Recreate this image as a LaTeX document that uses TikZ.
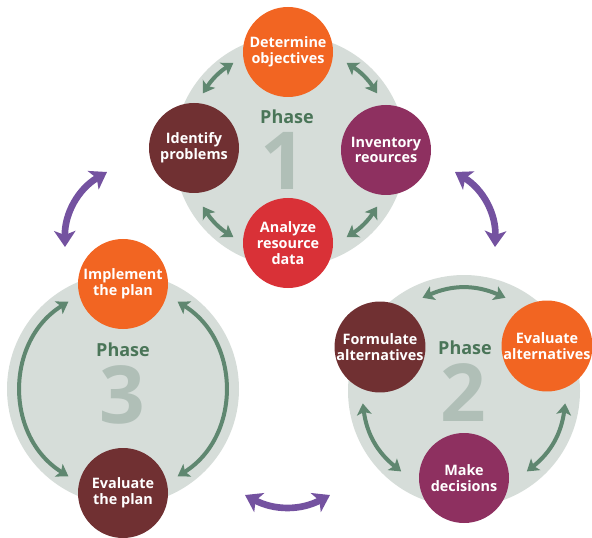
\documentclass[tikz,border=0pt]{standalone}
\usepackage{fontspec}
\setmainfont{Open Sans}
\usetikzlibrary{arrows.meta}

\definecolor{discgrey}{RGB}{214,221,217}
\definecolor{orangec}{RGB}{242,101,34}
\definecolor{maroonc}{RGB}{112,48,50}
\definecolor{plumc}{RGB}{142,48,96}
\definecolor{redc}{RGB}{217,49,55}
\definecolor{linkgreen}{RGB}{95,135,112}
\definecolor{swappurple}{RGB}{116,82,160}
\definecolor{phasegreen}{RGB}{74,117,88}
\definecolor{digitgrey}{RGB}{176,191,183}

\begin{document}
\begin{tikzpicture}
        [x=0.75pt, y=-0.75pt,
         disc/.style={draw=none,shape=circle,fill=discgrey,inner sep=0,minimum size=174pt},
         stage/.style={draw=none,shape=circle,fill=#1,inner sep=0,minimum size=67.5pt,text=white,align=center,font=\bfseries\fontsize{10.8}{11.8}\selectfont},
         phase/.style={text=phasegreen,inner sep=0,font=\bfseries\fontsize{13.5}{14}\selectfont},
         digit/.style={text=digitgrey,inner sep=0,font=\bfseries\fontsize{60}{60}\selectfont},
         link/.style={draw=linkgreen,line width=3pt,{Stealth[length=8.5pt,width=11pt,inset=2pt]}-{Stealth[length=8.5pt,width=11pt,inset=2pt]}},
         swap/.style={draw=swappurple,line width=5pt,{Stealth[length=12pt,width=16pt,inset=3pt]}-{Stealth[length=12pt,width=16pt,inset=3pt]}}]

        \useasboundingbox (0, 0) rectangle (592, 538);

        % grey discs
        \node[disc] (ph1) at (290, 151) {};
        \node[disc] (ph3) at (123, 389) {};
        \node[disc] (ph2) at (464, 391) {};

        \node[phase] (lbl1) at (287, 117) {Phase};
        \node[digit] (num1) at (283, 161) {1};
        \node[phase] (lbl3) at (123, 350) {Phase};
        \node[digit] (num3) at (122, 395) {3};
        \node[phase] (lbl2) at (465, 348) {Phase};
        \node[digit] (num2) at (463, 393) {2};

        % phase 1
        \node[stage=orangec] (obj) at (288, 52) {Determine\\objectives};
        \node[stage=maroonc] (prob) at (194, 148) {Identify\\problems};
        \node[stage=plumc] (inv) at (386, 150) {Inventory\\reources};
        \node[stage=redc] (ana) at (288, 243) {Analyze\\resource\\data};

        % phase 3
        \node[stage=orangec] (impl) at (123, 284) {Implement\\the plan};
        \node[stage=maroonc] (evplan) at (123, 493) {Evaluate\\the plan};

        % phase 2
        \node[stage=maroonc] (form) at (380, 347) {Formulate\\alternatives};
        \node[stage=orangec] (evalt) at (547, 346) {Evaluate\\alternatives};
        \node[stage=plumc] (dec) at (464, 478) {Make\\decisions};

        % arrow ends
        \coordinate (a1) at (233.4, 62.8);
        \coordinate (a2) at (202.8, 93.4);
        \coordinate (a3) at (202.8, 206.6);
        \coordinate (a4) at (233.4, 237.2);
        \coordinate (a5) at (346.6, 237.2);
        \coordinate (a6) at (377.2, 206.6);
        \coordinate (a7) at (377.2, 93.4);
        \coordinate (a8) at (346.6, 62.8);

        \coordinate (b1) at (68.4, 301.7);
        \coordinate (b2) at (68.4, 476.3);
        \coordinate (b3) at (177.6, 476.3);
        \coordinate (b4) at (177.6, 301.7);

        \coordinate (c1) at (505.5, 297.8);
        \coordinate (c2) at (422.5, 297.8);
        \coordinate (c3) at (362.8, 403.4);
        \coordinate (c4) at (401.2, 471.4);
        \coordinate (c5) at (526.8, 471.4);
        \coordinate (c6) at (565.2, 403.4);

        \coordinate (s1) at (107, 172);
        \coordinate (s2) at (65, 247);
        \coordinate (s3) at (455, 172);
        \coordinate (s4) at (495, 247);
        \coordinate (s5) at (245, 495);
        \coordinate (s6) at (330, 495);

        \draw[link] (a1) to[bend right=12] (a2);
        \draw[link] (a3) to[bend right=12] (a4);
        \draw[link] (a5) to[bend right=12] (a6);
        \draw[link] (a7) to[bend right=12] (a8);

        \draw[link] (b1) to[bend right=58, looseness=1.1] (b2);
        \draw[link] (b3) to[bend right=58, looseness=1.1] (b4);

        \draw[link] (c1) to[bend right=24] (c2);
        \draw[link] (c3) to[bend right=22] (c4);
        \draw[link] (c5) to[bend right=22] (c6);

        \draw[swap] (s1) to[bend right=30] (s2);
        \draw[swap] (s3) to[bend left=30] (s4);
        \draw[swap] (s5) to[bend right=28] (s6);
      \end{tikzpicture}
\end{document}
